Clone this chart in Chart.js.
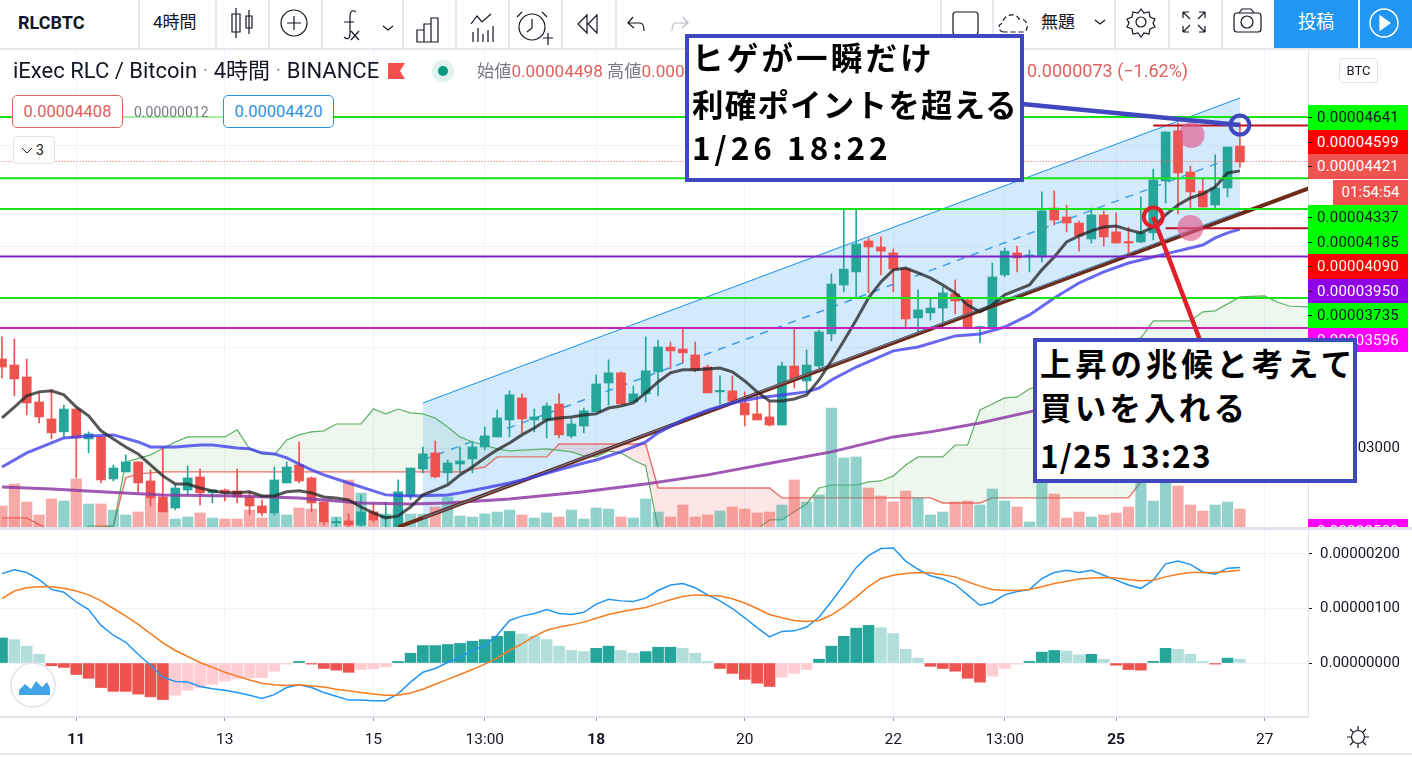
<!DOCTYPE html>
<html lang="ja">
<head>
<meta charset="utf-8">
<title>RLCBTC</title>
<script src="https://cdn.jsdelivr.net/npm/chart.js@4/dist/chart.umd.min.js"></script>
<style>
  html, body { margin: 0; padding: 0; background: #fff; }
  #page { position: relative; width: 1412px; height: 757px; overflow: hidden; font-family: Roboto, "Noto Sans CJK JP", sans-serif; color: #131722; }
  canvas { position: absolute; left: 0; }
  #main-chart { top: 48px; }
  #macd-chart { top: 530px; }
  .abs { position: absolute; white-space: nowrap; }
  .divider { position: absolute; top: 0; width: 2px; height: 48px; background: #e6e8f0; }
  .tag { position: absolute; left: 1308px; width: 100px; text-align: center; font-size: 15px; line-height: 25px; letter-spacing: .2px; overflow: hidden; }
  .tag::before { content: ""; position: absolute; left: 0; top: 12px; width: 4px; height: 1px; background: #131722; }
  .note { position: absolute; box-sizing: border-box; background: #fff; border: 4px solid #4048c0; font-family: "Noto Sans CJK JP", sans-serif; font-weight: 700; color: #000; z-index: 5; white-space: nowrap; }
  .note div { position: absolute; left: 3px; line-height: 44px; }
  .pill { position: absolute; box-sizing: border-box; top: 95px; height: 33px; width: 111px; background: #fff; border-radius: 5px; text-align: center; font-size: 16.5px; line-height: 31px; }
</style>
</head>
<body>
<div id="page">
  <canvas id="main-chart" width="1412" height="479"></canvas>
  <canvas id="macd-chart" width="1412" height="223"></canvas>

  <!-- toolbar -->
  <div class="abs" style="left:0;top:48px;width:1412px;height:2px;background:#e6e8f0"></div>
  <div class="abs" style="left:18px;top:10px;font-size:18px;font-weight:700;line-height:26px">RLCBTC</div>
  <div class="abs" style="left:153px;top:9px;font-size:17px;line-height:26px">4時間</div>
  <div class="abs" style="left:1041px;top:9px;font-size:17px;line-height:26px">無題</div>
  <div class="abs" style="left:1274px;top:0;width:84px;height:48px;background:#2196f3;color:#fff;font-size:18px;line-height:44px;text-align:center">投稿</div>
  <div class="abs" style="left:1360px;top:0;width:52px;height:48px;background:#2196f3"></div>
  <div id="dividers"></div>
  <svg class="abs" style="left:0;top:0" width="1412" height="48" fill="none" stroke="#131722" stroke-width="1.2">
    <path d="M236 8v30M232 14h8v18h-8zM249 10v24M246 16h6v12h-6z"/>
    <circle cx="294" cy="23" r="13"/><path d="M287 23h14M294 16v14"/>
    <path d="M356 12c-4-3-6 0-6 4v18c0 5-3 6-6 3M344 22h10M351 31l8 9M359 31l-8 9"/>
    <path d="M383 26l5 4 5-4"/>
    <path d="M417 42V30h7v12zM424 42V24h7v18zM431 42V18h7v24z"/>
    <path d="M471 24l6-8 5 6 9-8M473 42v-10M478 42v-14M483 42v-8M488 42v-12M493 42v-16"/>
    <circle cx="532" cy="27" r="13"/><path d="M532 19v9l-5 4M522 12l-5 5M542 12l5 5M543 38h10M548 33v12"/>
    <path d="M587 15l-9 9 9 9zM597 15l-9 9 9 9z"/>
    <path d="M633 17l-5 6 6 5M628 23h12c3 0 4 3 4 8"/>
    <path d="M683 17l5 6-6 5M688 23h-12c-3 0-4 3-4 8" stroke="#b8bcc8"/>
    <rect x="953" y="12" width="25" height="23" rx="3"/>
    <path d="M1004 32c-6 0-7-8-1-9 0-9 13-11 16-4 7-1 11 7 6 13z" stroke-dasharray="5 3"/>
    <path d="M1095 20l5 4 5-4"/>
    <circle cx="1141" cy="22" r="5"/><path d="M1141 9l3 4 5-1 1 5 5 2-2 4 2 4-5 2-1 5-5-1-3 4-3-4-5 1-1-5-5-2 2-4-2-4 5-2 1-5 5 1z"/>
    <path d="M1183 12h6M1183 12v6M1205 12h-6M1205 12v6M1183 32h6M1183 32v-6M1205 32h-6M1205 32v-6M1183 12l7 7M1205 12l-7 7M1183 32l7-7M1205 32l-7-7"/>
    <rect x="1234" y="13" width="27" height="19" rx="3"/><circle cx="1247" cy="22" r="6"/><path d="M1239 13l3-4h9l3 4"/>
    <circle cx="1384" cy="23" r="14" stroke="#fff" stroke-width="1.5"/><path d="M1380 16l10 7-10 7z" fill="#fff" stroke="#fff"/>
  </svg>

  <!-- chart header -->
  <div class="abs" style="left:13px;top:58px;font-size:22px;line-height:26px">iExec RLC / Bitcoin <span style="color:#9aa0ac">·</span> 4時間 <span style="color:#9aa0ac">·</span> BINANCE</div>
  <svg class="abs" style="left:386px;top:60px" width="70" height="24">
    <path d="M2 3h17l-5 8 5 8H2z" fill="#f5504f"/>
    <circle cx="57" cy="11" r="11" fill="#e0f1ee"/><circle cx="57" cy="11" r="5" fill="#089981"/>
  </svg>
  <div class="abs" style="left:477px;top:60px;font-size:17.2px;line-height:22px;color:#787b86">始値<span style="color:#e0605e">0.00004498</span> 高値<span style="color:#e0605e">0.00004611</span></div>
  <div class="abs" style="left:1027px;top:60px;font-size:18px;line-height:22px;color:#e0605e">0.0000073 (−1.62%)</div>
  <div class="abs" style="left:1339px;top:58px;width:39px;height:25px;box-sizing:border-box;border:1px solid #e0e3eb;border-radius:4px;font-size:13px;line-height:23px;text-align:center;background:#fff">BTC</div>
  <div class="pill" style="left:12px;border:1px solid #e0605e;color:#e0605e">0.00004408</div>
  <div class="abs" style="left:123px;top:100px;width:100px;height:24px;background:#fff;opacity:.6"></div>
  <div class="abs" style="left:134px;top:102px;font-size:14px;line-height:20px;color:#787b86">0.00000012</div>
  <div class="pill" style="left:223px;border:1px solid #2e90e0;color:#2e90e0">0.00004420</div>
  <div class="abs" style="left:13px;top:136px;width:42px;height:28px;box-sizing:border-box;background:#fff;border:1px solid #e0e3eb;border-radius:4px;font-size:14px;line-height:26px;padding-left:22px">3
    <svg class="abs" style="left:7px;top:10px" width="12" height="8" fill="none" stroke="#131722"><path d="M1 1l5 5 5-5"/></svg></div>

  <!-- price tags on the right axis -->
  <div id="tags"></div>

  <!-- logo and settings -->
  <svg class="abs" style="left:10px;top:662px" width="46" height="46">
    <circle cx="23" cy="23" r="22" fill="#fff" stroke="#e0e3eb" stroke-width="1.5"/>
    <path d="M9 33v-5l6-6 6 5 5-8 6 6 5-5 3 6v7z" fill="#42a5e8"/>
    <path d="M8 25l7-7 6 6 5-8 6 7 6-6" fill="none" stroke="#fff" stroke-width="2"/>
  </svg>
  <svg class="abs" style="left:1346px;top:725px" width="24" height="24" fill="none" stroke="#131722" stroke-width="1.2">
    <circle cx="12" cy="12" r="6.5"/><path d="M12 1v4M12 19v4M1 12h4M19 12h4M4 4l3 3M20 4l-3 3M4 20l3-3M20 20l-3-3"/>
  </svg>
  <div class="abs" style="left:0;top:753px;width:1412px;height:2px;background:#e6e8f0"></div>
  <div class="abs" style="left:0;top:527px;width:1412px;height:3px;background:#e0e3eb"></div>

  <!-- callouts -->
  <div class="note" style="left:685px;top:34px;width:339px;height:148px;font-size:31.5px;letter-spacing:1.2px">
    <div style="top:-4px;letter-spacing:3.2px">ヒゲが一瞬だけ</div>
    <div style="top:43px">利確ポイントを超える</div>
    <div style="top:86px;letter-spacing:4px">1/26 18:22</div>
  </div>
  <div class="note" style="left:1033px;top:338px;width:324px;height:145px;font-size:31.5px;letter-spacing:3.8px">
    <div style="top:-2px">上昇の兆候と考えて</div>
    <div style="top:42px;letter-spacing:3.2px">買いを入れる</div>
    <div style="top:90px;letter-spacing:1.2px">1/25 13:23</div>
  </div>
</div>

<script>
// prices are in 1e-8 BTC
const opens = [3443,3413,3354,3230,3146,3082,3195,3047,3057,2849,2884,2933,2839,2760,2705,2794,2859,2780,2794,2790,2760,2715,2681,2829,2918,2854,2735,2631,2641,2621,2686,2656,2611,2765,2898,2978,2879,2923,2948,3007,3057,3141,3250,3141,3141,3220,3062,3111,3181,3324,3374,3230,3270,3379,3502,3492,3463,3403,3280,3285,3225,3171,3156,3116,3408,3334,3408,3567,3809,3874,4027,3997,3968,3888,3646,3671,3695,3765,3735,3596,3601,3859,3968,3948,3948,4190,4146,4116,4037,4156,4072,4022,4022,4067,4324,4572,4369,4275,4205,4289,4497];
const closes = [3403,3344,3225,3156,3077,3195,3052,3072,2844,2903,2933,2829,2755,2686,2804,2854,2780,2794,2780,2760,2715,2681,2844,2908,2839,2730,2636,2636,2621,2686,2646,2666,2785,2903,2973,2859,2928,2938,3007,3062,3151,3265,3146,3156,3210,3067,3121,3186,3319,3374,3220,3270,3384,3502,3483,3473,3389,3275,3285,3235,3166,3141,3116,3408,3339,3413,3577,3814,3888,4012,3997,3977,3888,3641,3686,3695,3770,3730,3596,3601,3849,3977,3943,3958,4176,4131,4116,4052,4156,4047,4017,4017,4067,4329,4567,4364,4270,4195,4289,4492,4418];
const highs = [3552,3542,3443,3275,3290,3215,3195,3082,3057,2918,2968,2933,2894,3007,2819,2913,2898,2794,2799,2898,2785,2745,2908,2933,3032,2859,2735,2656,2676,2770,2730,2735,2844,2903,3007,3037,2943,3007,3032,3106,3190,3285,3270,3195,3225,3270,3146,3200,3364,3438,3379,3309,3552,3537,3527,3596,3527,3413,3359,3359,3280,3265,3230,3428,3596,3488,3587,3864,4185,4185,4042,4047,3987,3893,3785,3740,3799,3834,3740,3606,3918,3992,4002,3982,4270,4275,4205,4126,4190,4176,4166,4096,4245,4383,4567,4611,4398,4339,4453,4492,4611];
const lows = [3349,3260,3166,3126,3047,3057,2854,2978,2829,2839,2884,2780,2715,2686,2696,2770,2720,2730,2740,2730,2671,2666,2671,2829,2829,2686,2621,2611,2611,2616,2636,2611,2611,2745,2879,2854,2829,2879,2879,2993,3057,3057,3077,3082,3052,3052,3052,3077,3181,3215,3220,3230,3230,3260,3393,3423,3379,3275,3220,3230,3111,3141,3111,3116,3299,3280,3398,3532,3775,3750,3770,3859,3775,3601,3577,3636,3601,3666,3591,3522,3601,3849,3874,3874,3923,4106,4072,3977,4017,4002,4017,3963,4017,4032,4215,4161,4190,4195,4190,4245,4393];
const volumes = [21,43,25,12,28,26,48,23,23,17,12,15,30,24,8,10,14,9,8,8,17,9,14,12,19,18,5,10,47,34,7,13,18,13,13,20,30,11,10,13,15,17,12,9,14,10,17,8,19,18,10,9,28,15,10,22,10,12,16,20,18,14,15,22,47,25,32,119,69,70,39,31,25,36,29,12,15,25,26,22,38,26,20,5,44,33,9,15,10,12,14,20,60,26,60,41,22,16,22,25,18];

// moving averages
const blackMa = [3151,3205,3260,3280,3285,3265,3205,3161,3087,3047,3007,2973,2918,2864,2824,2824,2804,2790,2780,2780,2785,2765,2765,2785,2790,2780,2760,2755,2745,2710,2681,2656,2666,2710,2770,2794,2819,2869,2908,2953,2993,3027,3067,3101,3141,3151,3156,3166,3171,3200,3210,3225,3275,3329,3374,3389,3389,3393,3398,3379,3334,3280,3235,3235,3245,3265,3339,3433,3532,3636,3745,3824,3884,3893,3869,3844,3809,3770,3710,3676,3710,3760,3785,3809,3884,3948,4022,4052,4077,4096,4101,4082,4067,4096,4156,4205,4240,4260,4294,4364,4374];
const blueIdx = [0,2,4,5,7,9,11,12,14,16,17,19,20,21,22,23,24,25,26,28,30,31,33,36,37,39,41,43,45,47,48,50,52,53,55,57,59,61,63,65,66,67,69,72,74,77,79,81,83,85,87,89,91,93,94,96,97,98,99,100];
const blueMa = [2908,2978,3027,3052,3062,3067,3032,3007,3007,3017,3017,3002,2998,2978,2973,2953,2923,2894,2869,2829,2790,2770,2765,2770,2780,2804,2829,2859,2894,2928,2943,2983,3032,3077,3141,3190,3225,3250,3265,3280,3299,3339,3403,3483,3502,3557,3567,3601,3661,3745,3819,3874,3918,3948,3963,3992,4007,4042,4067,4086];
const purpleIdx = [0,4,8,13,19,24,29,33,36,41,47,52,57,63,67,72,75,79,83,100];
const purpleMa = [2809,2799,2785,2770,2765,2755,2730,2725,2730,2750,2785,2824,2869,2938,2983,3057,3082,3126,3181,3413];

// cloud lines
const spanAIdx = [0,6,7,9,10,12,14,15,18,19,20,21,22,23,24,25,26,27,29,30,31,32,33,34,35,36,37,38,39,40,41,44,46,47,48,49,50,51,52,53,61,62,63,64,65,66,67,69,70,71,72,73,74,76,77,78,79,80,81,82,83,85,88,91,92,93,96,97,98,100,102,103,104,105.6];
const spanA = [2560,2560,2616,2616,2933,2968,3032,3057,3057,3092,2998,2973,2968,3042,3067,3082,3087,3121,3121,3195,3171,3195,3176,3171,3151,3106,3057,3032,3017,2998,2988,2998,2983,2963,2958,2988,2978,2943,2913,2600,2600,2646,2646,2686,2725,2804,2819,2819,2834,2839,2864,2918,2958,2958,3017,3017,3190,3220,3250,3255,3294,3349,3463,3537,3547,3631,3631,3676,3681,3750,3755,3725,3705,3700];
const spanBIdx = [0,2,4,9,10,11,13,37,39,40,44,45,52,53,62,63,75,76,79,80,91,92,93,94,105.6];
const spanB = [2656,2656,2590,2616,2854,2874,2884,2884,2908,2958,2958,3022,3022,2804,2804,2755,2755,2730,2730,2755,2755,2834,2894,3240,3240];

// channel and drawn lines, as [index, price]
const channelIdx = [34,100];
const channelTop = [3225,4735];
const channelMid = [2943,4453];
const channelBottom = [2656,4171];
const trendIdx = [32,105.6];
const trendLine = [2611,4289];
const levelValues = [4641,4337,4185,3950,3745,3596];
const levelColors = ["#17e317","#17e317","#17e317","#7b22c4","#17e317","#c81fc0"];
const lastPrice = 4421;
const exitLevel = 4599, entryLevel = 4090;
const exitFrom = 93, entryFrom = 94;
const pinkDots = [[96.1,4552],[96,4091]];
const entryRing = [93,4146], exitRing = [100,4601];
const entryLeader = [[93,4146],[96.77,3537]];
const exitLeader = [[82.4,4705],[100,4601]];

// axis labels
const priceTicks = [3000,3500,4000,4500];
const xTickIdx = [6,18,30,39,48,60,72,81,90,102];
const xTickLabels = ["11","13","15","13:00","18","20","22","13:00","25","27"];
const xTickBold = ["11","18","25"];
const macdTicks = [0,100,200];
const tags = [
  ["0.00004641",105,25,"#00ff00","#131722"],
  ["0.00004599",130,24,"#ff0000","#fff"],
  ["0.00004421",154,25,"#ef5350","#fff"],
  ["0.00004337",205,25,"#00ff00","#131722"],
  ["0.00004185",230,24,"#00ff00","#131722"],
  ["0.00004090",254,25,"#ff0000","#fff"],
  ["0.00003950",279,24,"#8f00e8","#fff"],
  ["0.00003735",303,25,"#00ff00","#131722"],
  ["0.00003596",328,24,"#ff00ff","#fff"],
  ["0.00002500",519,8,"#ff00ff","#fff"],
];

// macd pane, also 1e-8 BTC
const macdHist = [46,43,31,16,-5,-8,-21,-28,-45,-52,-52,-57,-62,-67,-59,-50,-45,-39,-33,-29,-28,-27,-15,-2,3,-2,-10,-13,-17,-12,-11,-7,3,18,32,32,34,36,40,43,49,58,53,49,43,31,23,21,27,31,23,18,21,29,29,27,18,3,-10,-19,-30,-37,-43,-26,-19,-12,7,31,49,64,69,65,54,25,9,-6,-10,-15,-28,-35,-24,-10,-2,3,20,23,22,15,16,7,-4,-12,-13,3,27,25,16,3,-2,9,7];
const macdLine = [164,171,166,153,135,130,112,98,69,51,38,16,-4,-26,-34,-35,-43,-47,-50,-54,-59,-65,-58,-45,-40,-45,-54,-61,-68,-68,-69,-69,-56,-35,-17,-10,1,10,23,32,51,78,86,91,98,91,89,93,108,117,114,113,119,133,143,146,138,125,114,100,83,65,48,58,59,66,84,113,143,175,197,210,211,187,172,160,154,144,125,106,111,125,131,135,155,166,170,166,170,161,152,143,137,152,182,187,181,167,163,174,175];
const signalLine = [118,132,138,140,140,137,132,125,114,100,86,71,54,37,23,12,1,-8,-17,-24,-31,-37,-40,-41,-40,-42,-44,-48,-51,-54,-57,-59,-59,-55,-48,-39,-30,-21,-12,-2,9,23,35,49,60,66,70,75,82,89,94,98,102,109,116,122,125,124,123,118,110,100,89,83,78,76,78,88,103,121,140,155,161,164,166,165,162,158,149,141,135,133,133,135,140,146,150,154,156,157,156,153,151,152,158,163,166,166,166,168,170];

const UP = "#26a69a", DOWN = "#ef5350";
const GRID = "#f0f3fa";
const fmtPrice = (v) => (v / 1e8).toFixed(8);
const xy = (idx, vals) => idx.map((x, k) => ({ x, y: vals[k] }));
const bars = closes.map((_, i) => i);
const candleColor = closes.map((c, i) => (c >= opens[i] ? UP : DOWN));

// toolbar dividers and price tags
[138,215,268,321,402,455,508,561,615,940,992,1114,1168,1221].forEach((x) => {
  const d = document.createElement("div");
  d.className = "divider";
  d.style.left = x + "px";
  document.getElementById("dividers").appendChild(d);
});
tags.forEach(([text, top, h, bg, fg]) => {
  const t = document.createElement("div");
  t.className = "tag";
  t.textContent = text;
  t.style.cssText = `top:${top}px;height:${h}px;background:${bg};color:${fg}`;
  document.getElementById("tags").appendChild(t);
});
const timer = document.createElement("div");
timer.className = "abs";
timer.textContent = "01:54:54";
timer.style.cssText = "left:1333px;top:180px;width:75px;height:25px;background:#ef5350;color:#fff;font-size:15px;line-height:25px;text-align:center";
document.getElementById("tags").appendChild(timer);

const lineDs = (data, color, width, order, extra = {}) => ({
  type: "line",
  data,
  borderColor: color,
  borderWidth: width,
  pointRadius: 0,
  tension: 0,
  fill: false,
  order,
  ...extra,
});

const ringDs = (pos, color, order) => ({
  type: "line",
  data: [{ x: pos[0], y: pos[1] }],
  showLine: false,
  pointRadius: 9.5,
  pointBorderWidth: 4,
  pointBorderColor: color,
  pointBackgroundColor: "rgba(0,0,0,0)",
  order,
});

// the layout must not inset the plot for the axis labels
const noPad = (s) => { s.paddingLeft = s.paddingRight = s.paddingTop = s.paddingBottom = 0; };

const levelDatasets = levelValues.map((v, k) =>
  lineDs([{ x: -1, y: v }, { x: 106, y: v }], levelColors[k], 2, 50)
);

new Chart(document.getElementById("main-chart"), {
  type: "bar",
  data: {
    datasets: [
      lineDs(xy(channelIdx, channelTop), "#2f9ae6", 1.2, 100, { fill: "+1", backgroundColor: "rgba(33,150,243,0.2)" }),
      lineDs(xy(channelIdx, channelBottom), "#2f7fc0", 1.2, 100),
      lineDs(xy(channelIdx, channelMid), "#3d9de6", 1.5, 99, { borderDash: [8, 7] }),
      lineDs(xy(spanAIdx, spanA), "#5cb065", 1.2, 90, {
        fill: { target: "+1", above: "rgba(76,175,80,0.1)", below: "rgba(239,83,80,0.14)" },
      }),
      lineDs(xy(spanBIdx, spanB), "#ee6f6c", 1.4, 90),
      {
        label: "volume",
        data: bars.map((i) => ({ x: i, y: volumes[i] })),
        yAxisID: "yVol",
        backgroundColor: candleColor.map((c) => (c === UP ? "rgba(38,166,154,0.5)" : "rgba(239,83,80,0.5)")),
        barThickness: 10.5,
        grouped: false,
        order: 80,
      },
      {
        label: "wick",
        data: bars.map((i) => ({ x: i, y: [lows[i], highs[i]] })),
        backgroundColor: candleColor,
        barThickness: 1,
        grouped: false,
        order: 70,
      },
      {
        label: "candle",
        data: bars.map((i) => ({ x: i, y: [opens[i], closes[i]] })),
        backgroundColor: candleColor,
        barThickness: 9,
        minBarLength: 1.5,
        grouped: false,
        order: 69,
      },
      lineDs(xy(purpleIdx, purpleMa), "rgba(142,60,165,0.85)", 3, 60),
      lineDs(xy(trendIdx, trendLine), "#6e2a18", 4, 59),
      lineDs(xy(channelIdx, channelBottom), "#5f8fb5", 1, 58),
      lineDs(xy(blueIdx, blueMa), "rgba(60,60,235,0.78)", 3, 57),
      lineDs(xy(bars, blackMa), "rgba(40,40,40,0.78)", 3, 56),
      ...levelDatasets,
      lineDs([{ x: -1, y: lastPrice }, { x: 106, y: lastPrice }], "#ef5350", 1, 48, { borderDash: [1, 2] }),
      lineDs([{ x: exitFrom, y: exitLevel }, { x: 106, y: exitLevel }], "#c01020", 2, 45),
      lineDs([{ x: entryFrom, y: entryLevel }, { x: 106, y: entryLevel }], "#c01020", 2, 45),
      {
        type: "line",
        data: pinkDots.map(([x, y]) => ({ x, y })),
        showLine: false,
        pointRadius: 13,
        pointBorderWidth: 0,
        pointBackgroundColor: "rgba(226,90,140,0.65)",
        order: 44,
      },
      lineDs(entryLeader.map(([x, y]) => ({ x, y })), "#e01f2b", 4.5, 41),
      lineDs(exitLeader.map(([x, y]) => ({ x, y })), "#4048c0", 4.5, 41),
      ringDs(entryRing, "#e01f2b", 40),
      ringDs(exitRing, "#4048c0", 40),
    ],
  },
  options: {
    responsive: false,
    animation: false,
    events: [],
    layout: { padding: 0, autoPadding: false },
    plugins: { legend: { display: false }, tooltip: { enabled: false } },
    scales: {
      x: {
        type: "linear",
        offset: false,
        min: -0.16,
        max: 105.5,
        afterBuildTicks: (s) => { s.ticks = xTickIdx.map((value) => ({ value })); },
        afterFit: (s) => { s.height = 0; noPad(s); },
        ticks: { display: false },
        grid: { color: GRID, drawTicks: false, offset: false },
        border: { display: false },
      },
      y: {
        position: "right",
        min: 2611,
        max: 4982.4,
        afterBuildTicks: (s) => { s.ticks = priceTicks.map((value) => ({ value })); },
        afterFit: (s) => { s.width = 104; noPad(s); },
        ticks: {
          callback: (v) => fmtPrice(v),
          color: "#131722",
          font: { family: "Roboto", size: 15 },
          padding: 8,
        },
        grid: { color: GRID, tickColor: "#131722", tickLength: 4 },
        border: { color: "#e0e3eb" },
      },
      yVol: { display: false, min: 0, max: 479 },
    },
  },
});

// pale when the bar shrinks towards zero
const histColor = macdHist.map((v, i) => {
  const prev = i ? macdHist[i - 1] : v;
  if (v >= 0) return v >= prev ? UP : "#b2dfdb";
  return v <= prev ? DOWN : "#ffcdd2";
});

new Chart(document.getElementById("macd-chart"), {
  type: "bar",
  data: {
    datasets: [
      lineDs(xy(bars, macdLine), "#2196f3", 1.5, 2),
      lineDs(xy(bars, signalLine), "#f57c1f", 1.5, 1),
      {
        data: bars.map((i) => ({ x: i, y: macdHist[i] })),
        backgroundColor: histColor,
        barThickness: 11,
        order: 5,
      },
    ],
  },
  options: {
    responsive: false,
    animation: false,
    events: [],
    layout: { padding: 0, autoPadding: false },
    plugins: { legend: { display: false }, tooltip: { enabled: false } },
    scales: {
      x: {
        type: "linear",
        offset: false,
        min: -0.16,
        max: 105.5,
        afterBuildTicks: (s) => { s.ticks = xTickIdx.map((value) => ({ value })); },
        afterFit: (s) => { s.height = 36; noPad(s); },
        ticks: {
          autoSkip: false,
          maxRotation: 0,
          padding: 10,
          color: "#131722",
          callback: (v) => xTickLabels[xTickIdx.indexOf(v)],
          font: (ctx) => ({
            family: "Roboto",
            size: 15.5,
            weight: xTickBold.includes(ctx.tick && ctx.tick.label) ? "700" : "400",
          }),
        },
        grid: { color: GRID, tickColor: "#9598a1", tickLength: 4, offset: false },
        border: { color: "#e0e3eb", width: 2 },
      },
      y: {
        position: "right",
        min: -99,
        max: 244,
        afterBuildTicks: (s) => { s.ticks = macdTicks.map((value) => ({ value })); },
        afterFit: (s) => { s.width = 104; noPad(s); },
        ticks: {
          callback: (v) => fmtPrice(v),
          color: "#131722",
          font: { family: "Roboto", size: 15 },
          padding: 8,
        },
        grid: { color: GRID, tickColor: "#131722", tickLength: 4 },
        border: { color: "#e0e3eb" },
      },
    },
  },
});
</script>
</body>
</html>
